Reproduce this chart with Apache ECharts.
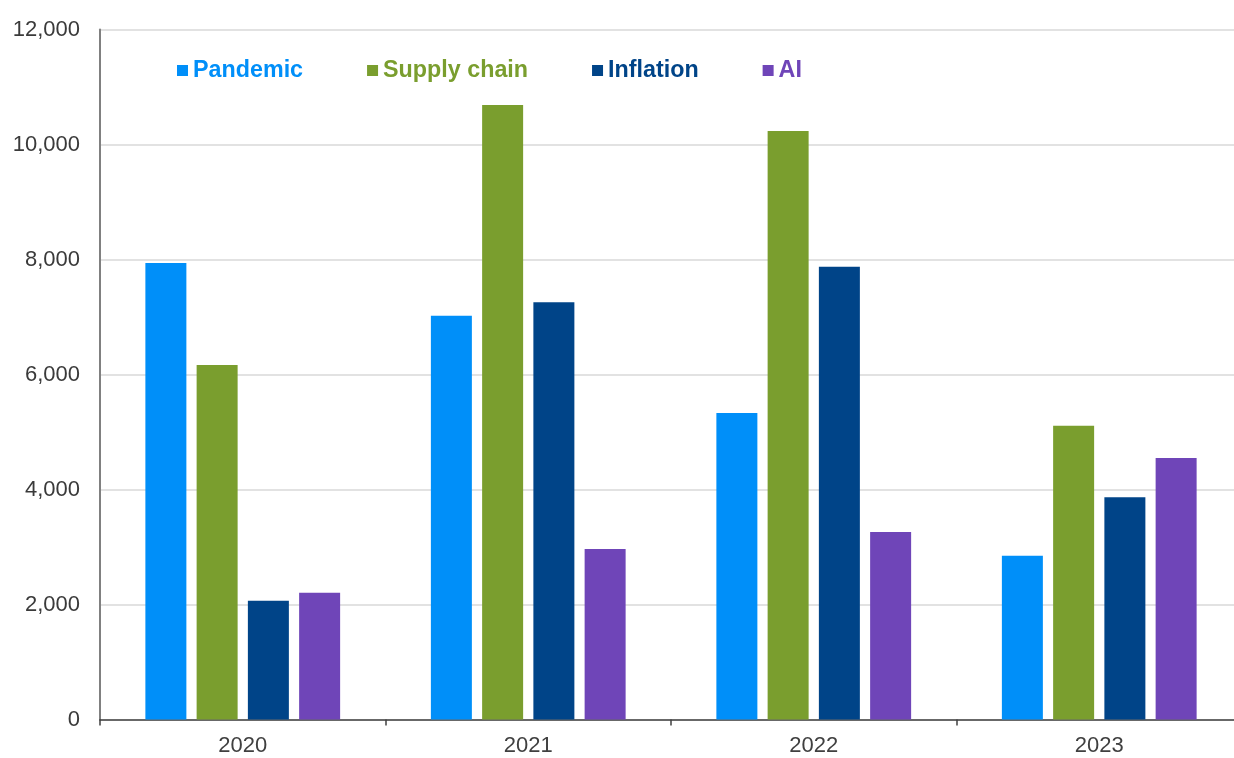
<!DOCTYPE html>
<html>
<head>
<meta charset="utf-8">
<script src="https://cdn.jsdelivr.net/npm/echarts@6/dist/echarts.min.js"></script>
<style>
html,body{margin:0;padding:0;background:#fff;overflow:hidden;width:1234px;height:758px;}
#chart{width:1242px;height:758px;}
</style>
</head>
<body>
<div id="chart"></div>
<script>
const categories = ['2020', '2021', '2022', '2023'];
const seriesNames = ['Pandemic', 'Supply chain', 'Inflation', 'AI'];
const pandemic = [7940, 7020, 5330, 2850];
const supplyChain = [6165, 10685, 10235, 5110];
const inflation = [2065, 7255, 7875, 3865];
const ai = [2205, 2965, 3260, 4550];
const colors = ['#008ff9', '#7a9e2e', '#004488', '#6f45b8'];

const values = [pandemic, supplyChain, inflation, ai];
const chart = echarts.init(document.getElementById('chart'), null, {renderer: 'canvas', width: 1242, height: 758});
const font = '"Liberation Sans", Arial, sans-serif';
chart.setOption({
  animation: false,
  backgroundColor: '#ffffff',
  legend: {
    left: 172,
    top: 54,
    itemGap: 64,
    itemWidth: 11,
    itemHeight: 11,
    icon: 'rect',
    data: seriesNames.map((n, i) => ({
      name: n,
      textStyle: {color: colors[i]}
    })),
    textStyle: {fontFamily: font, fontSize: 23.3, fontWeight: 'bold'}
  },
  grid: {left: 100, right: 0, top: 29.5, bottom: 38.5, containLabel: false},
  xAxis: {
    type: 'category',
    data: categories,
    axisLine: {show: true, lineStyle: {color: '#404040', width: 1.5}},
    axisTick: {show: true, length: 6, lineStyle: {color: '#404040', width: 1.5}},
    axisLabel: {fontFamily: font, fontSize: 22, color: '#404040', margin: 15},
    splitLine: {show: false}
  },
  yAxis: {
    type: 'value',
    min: 0,
    max: 12000,
    interval: 2000,
    axisLine: {show: true, lineStyle: {color: '#808080', width: 2}},
    axisTick: {show: false},
    axisLabel: {
      fontFamily: font, fontSize: 22, color: '#3a3a3a', margin: 20,
      formatter: v => v.toLocaleString('en-US')
    },
    splitLine: {show: true, lineStyle: {color: '#e2e2e2', width: 2}}
  },
  series: seriesNames.map((n, i) => ({
    name: n,
    type: 'bar',
    data: values[i],
    barWidth: 41,
    barGap: '25%',
    itemStyle: {color: colors[i]}
  }))
});
</script>
</body>
</html>
